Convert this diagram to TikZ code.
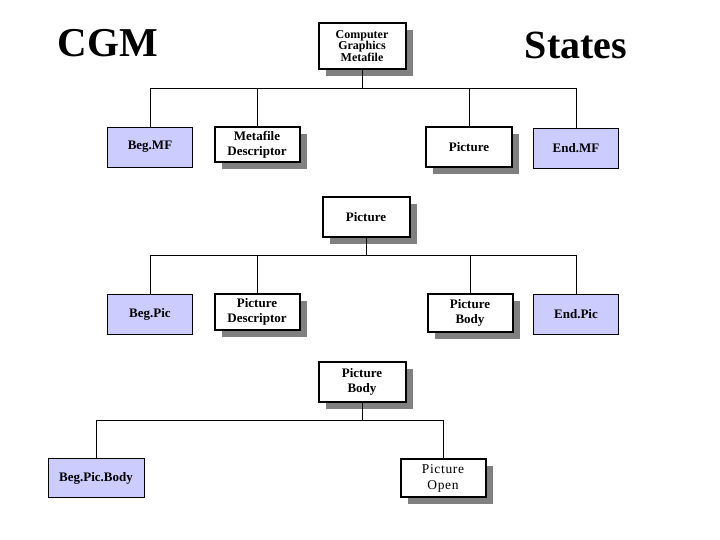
\documentclass[tikz,border=0pt]{standalone}
\usepackage{fontspec}
\setmainfont{Liberation Serif}
\usetikzlibrary{shadows}
\definecolor{lav}{RGB}{204,204,255}
\begin{document}
\begin{tikzpicture}[x=1pt,y=-1pt,
  inner/.style={draw=black,line width=2pt,fill=white,align=center,font=\fontsize{13}{15}\selectfont\bfseries,
    inner sep=0pt,drop shadow={shadow xshift=7pt,shadow yshift=-7pt,fill=gray,opacity=1}},
  leaf/.style={draw=black,line width=0.8pt,fill=lav,align=center,font=\fontsize{13}{15}\selectfont\bfseries,inner sep=0pt},
  conn/.style={line width=1pt}]
\useasboundingbox (0,0) rectangle (720,540);
\node[font=\fontsize{41}{41}\selectfont\bfseries] (t1) at (108,43) {CGM};
\node[font=\fontsize{40}{40}\selectfont\bfseries] (t2) at (576,45) {States};
% level 1
\node[inner,minimum width=87pt,minimum height=46pt,font=\fontsize{12}{11.5}\selectfont\bfseries] (cgm) at (362,46) {Computer\\Graphics\\Metafile};
\coordinate (b1) at (362,89);
\node[leaf,minimum width=85pt,minimum height=40pt] (begmf) at (150,147) {Beg.MF};
\node[inner,minimum width=85pt,minimum height=35pt] (md) at (257,145) {Metafile\\Descriptor};
\node[inner,minimum width=86pt,minimum height=40pt] (pic) at (469,147) {Picture};
\node[leaf,minimum width=85pt,minimum height=40pt] (endmf) at (576,148) {End.MF};
\draw[conn] (cgm.south) -- (b1);
\foreach \n in {begmf,md,pic,endmf}{\draw[conn] (\n.north) |- (b1);}
% level 2
\node[inner,minimum width=87pt,minimum height=40pt] (pic2) at (366,217) {Picture};
\coordinate (b2) at (366,255);
\node[leaf,minimum width=85pt,minimum height=40pt] (begpic) at (150,314) {Beg.Pic};
\node[inner,minimum width=85pt,minimum height=36pt] (pd) at (257,312) {Picture\\Descriptor};
\node[inner,minimum width=85pt,minimum height=38pt] (pb) at (470,313) {Picture\\Body};
\node[leaf,minimum width=85pt,minimum height=40pt] (endpic) at (576,314) {End.Pic};
\draw[conn] (pic2.south) -- (b2);
\foreach \n in {begpic,pd,pb,endpic}{\draw[conn] (\n.north) |- (b2);}
% level 3
\node[inner,minimum width=87pt,minimum height=40pt] (pb2) at (362,382) {Picture\\Body};
\coordinate (b3) at (362,420);
\node[leaf,minimum width=96pt,minimum height=39pt] (begpb) at (96,478) {Beg.Pic.Body};
\node[inner,minimum width=85pt,minimum height=38pt,font=\fontsize{13.5}{16}\selectfont\addfontfeatures{LetterSpace=5}] (po) at (443,478) {Picture\\Open};
\draw[conn] (pb2.south) -- (b3);
\foreach \n in {begpb,po}{\draw[conn] (\n.north) |- (b3);}
\end{tikzpicture}
\end{document}
